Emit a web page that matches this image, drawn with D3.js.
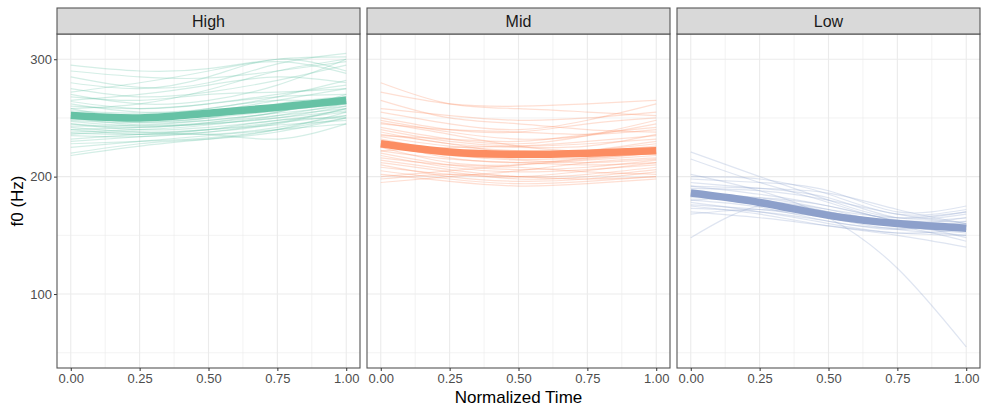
<!DOCTYPE html>
<html>
<head>
<meta charset="utf-8">
<script src="https://cdn.jsdelivr.net/npm/d3@7"></script>
<style>
  body { margin: 0; background: #fff; }
  text { font-family: "Liberation Sans", Arial, sans-serif; }
</style>
</head>
<body>
<svg></svg>
<script>
// f0 contours by tone, ggplot-style facets (High / Mid / Low)
const width = 981;
const height = 406;

const tones = ["High", "Mid", "Low"];
const toneColors = ["#66c2a5", "#fc8d62", "#8da0cb"];
const timePoints = [0, 0.25, 0.5, 0.75, 1];
const xTicks = [0, 0.25, 0.5, 0.75, 1];
const yTicks = [100, 200, 300];

// mean contour per tone (Hz at each time point)
const highMean = [252, 250, 254, 259, 265];
const midMean = [228, 221, 219, 220, 222];
const lowMean = [186, 178, 167, 160, 156];

// individual contours (Hz at each time point)
const highTokens = [
  [295, 290, 292, 300, 302], [290, 285, 284, 290, 298], [285, 276, 280, 296, 305],
  [280, 275, 285, 300, 290], [275, 268, 272, 282, 295], [270, 262, 265, 278, 300],
  [268, 265, 270, 272, 275], [264, 258, 262, 270, 278], [262, 255, 258, 268, 282],
  [260, 258, 262, 268, 270], [258, 250, 255, 265, 275], [256, 254, 256, 260, 268],
  [255, 248, 250, 262, 268], [254, 252, 258, 265, 262], [252, 246, 248, 255, 270],
  [250, 248, 252, 258, 264], [250, 244, 246, 252, 258], [248, 246, 250, 256, 262],
  [247, 243, 245, 250, 260], [245, 242, 246, 255, 266], [245, 240, 242, 248, 255],
  [243, 244, 248, 254, 260], [242, 238, 240, 246, 252], [240, 242, 245, 250, 256],
  [240, 236, 238, 245, 258], [238, 240, 244, 252, 262], [237, 236, 240, 248, 250],
  [236, 238, 236, 242, 252], [235, 234, 238, 246, 258], [232, 236, 240, 244, 248],
  [230, 234, 236, 232, 245], [228, 230, 233, 240, 250], [225, 230, 235, 240, 245],
  [220, 228, 232, 238, 250], [218, 226, 232, 240, 255], [265, 270, 278, 285, 280],
  [272, 280, 290, 298, 288], [258, 262, 274, 290, 300]
];
const midTokens = [
  [280, 262, 258, 255, 252], [272, 262, 260, 262, 265], [265, 250, 245, 240, 238],
  [258, 252, 248, 250, 255], [255, 245, 240, 248, 262], [250, 240, 238, 245, 250],
  [248, 238, 232, 235, 245], [245, 240, 238, 236, 240], [242, 232, 228, 235, 248],
  [240, 230, 226, 228, 232], [238, 228, 225, 226, 236], [236, 228, 220, 222, 228],
  [234, 226, 222, 220, 224], [232, 222, 218, 222, 230], [230, 220, 215, 216, 220],
  [228, 216, 212, 216, 225], [226, 218, 214, 212, 215], [225, 212, 210, 214, 218],
  [222, 215, 212, 210, 212], [220, 210, 206, 208, 214], [218, 208, 204, 206, 210],
  [216, 210, 208, 204, 202], [214, 206, 200, 202, 208], [212, 204, 198, 200, 206],
  [210, 200, 196, 198, 204], [208, 202, 200, 205, 212], [205, 198, 194, 196, 200],
  [202, 196, 192, 194, 198], [200, 205, 210, 215, 220], [198, 202, 200, 198, 200],
  [195, 200, 205, 212, 216], [222, 225, 226, 230, 235], [235, 232, 230, 236, 242],
  [246, 236, 226, 222, 226]
];
const lowTokens = [
  [221, 200, 180, 165, 170], [215, 195, 178, 162, 160], [200, 198, 185, 168, 172],
  [198, 195, 188, 170, 175], [195, 190, 182, 165, 168], [192, 185, 175, 163, 162],
  [190, 188, 180, 168, 160], [188, 180, 170, 162, 165], [186, 182, 172, 160, 158],
  [184, 176, 168, 158, 152], [182, 178, 165, 155, 150], [180, 174, 162, 156, 158],
  [178, 170, 160, 152, 155], [176, 172, 165, 158, 145], [175, 168, 158, 150, 140],
  [173, 170, 162, 155, 162], [170, 165, 158, 152, 150], [168, 172, 166, 158, 155],
  [148, 175, 170, 160, 165], [180, 182, 175, 162, 148], [185, 180, 172, 165, 170],
  [202, 188, 165, 122, 55], [192, 190, 186, 172, 160]
];

const means = [highMean, midMean, lowMean];
const tokens = [highTokens, midTokens, lowTokens];

const svg = d3.select("svg")
    .attr("width", width)
    .attr("height", height);

const panelLefts = [57, 367, 677];
const panelWidth = 303;
const stripTop = 8, stripHeight = 26;
const panelTop = stripTop + stripHeight, panelBottom = 368;

const y = d3.scaleLinear().domain([37, 321.5]).range([panelBottom, panelTop]);

// y axis (shared, left of first panel)
const yAxis = svg.append("g")
    .attr("transform", `translate(${panelLefts[0]},0)`)
    .call(d3.axisLeft(y).tickValues(yTicks).tickSize(3).tickPadding(2));
yAxis.select(".domain").remove();
yAxis.selectAll("line").attr("stroke", "#333333");
yAxis.selectAll("text").attr("fill", "#4d4d4d").style("font-size", "13px");

tones.forEach((tone, i) => {
  const left = panelLefts[i];
  const x = d3.scaleLinear().domain([-0.05, 1.05]).range([left, left + panelWidth]);
  const g = svg.append("g");

  // grid: minor then major
  const xMinor = [0.125, 0.375, 0.625, 0.875];
  const yMinor = [50, 150, 250];
  g.selectAll(".vminor").data(xMinor).enter().append("line")
    .attr("x1", d => x(d)).attr("x2", d => x(d))
    .attr("y1", panelTop).attr("y2", panelBottom)
    .attr("stroke", "#ebebeb").attr("stroke-width", 0.6);
  g.selectAll(".hminor").data(yMinor).enter().append("line")
    .attr("x1", left).attr("x2", left + panelWidth)
    .attr("y1", d => y(d)).attr("y2", d => y(d))
    .attr("stroke", "#ebebeb").attr("stroke-width", 0.6);
  g.selectAll(".vmajor").data(xTicks).enter().append("line")
    .attr("x1", d => x(d)).attr("x2", d => x(d))
    .attr("y1", panelTop).attr("y2", panelBottom)
    .attr("stroke", "#ebebeb").attr("stroke-width", 1.1);
  g.selectAll(".hmajor").data(yTicks).enter().append("line")
    .attr("x1", left).attr("x2", left + panelWidth)
    .attr("y1", d => y(d)).attr("y2", d => y(d))
    .attr("stroke", "#ebebeb").attr("stroke-width", 1.1);

  const line = d3.line()
    .x((d, k) => x(timePoints[k]))
    .y(d => y(d))
    .curve(d3.curveNatural);

  // individual tokens
  g.selectAll(".token").data(tokens[i]).enter().append("path")
    .attr("d", line)
    .attr("fill", "none")
    .attr("stroke", toneColors[i])
    .attr("stroke-width", 1.2)
    .attr("stroke-opacity", 0.28);

  // mean contour
  g.append("path")
    .attr("d", line(means[i]))
    .attr("fill", "none")
    .attr("stroke", toneColors[i])
    .attr("stroke-width", 7.5);

  // panel border
  g.append("rect")
    .attr("x", left).attr("y", panelTop)
    .attr("width", panelWidth).attr("height", panelBottom - panelTop)
    .attr("fill", "none").attr("stroke", "#555555").attr("stroke-width", 1.1);

  // strip
  g.append("rect")
    .attr("x", left).attr("y", stripTop)
    .attr("width", panelWidth).attr("height", stripHeight)
    .attr("fill", "#d9d9d9").attr("stroke", "#555555").attr("stroke-width", 1.1);
  g.append("text")
    .attr("x", left + panelWidth / 2)
    .attr("y", stripTop + stripHeight / 2 + 5.5)
    .attr("text-anchor", "middle")
    .attr("fill", "#1a1a1a")
    .style("font-size", "16px")
    .text(tone);

  // x axis
  const xAxis = svg.append("g")
    .attr("transform", `translate(0,${panelBottom})`)
    .call(d3.axisBottom(x).tickValues(xTicks).tickFormat(d3.format(".2f")).tickSize(3).tickPadding(3));
  xAxis.select(".domain").remove();
  xAxis.selectAll("line").attr("stroke", "#333333");
  xAxis.selectAll("text").attr("fill", "#4d4d4d").style("font-size", "13px");
});

// axis titles
svg.append("text")
  .attr("x", (panelLefts[0] + panelLefts[2] + panelWidth) / 2)
  .attr("y", 403)
  .attr("text-anchor", "middle")
  .attr("fill", "#000")
  .style("font-size", "17px")
  .text("Normalized Time");

svg.append("text")
  .attr("transform", `translate(23,${(panelTop + panelBottom) / 2}) rotate(-90)`)
  .attr("text-anchor", "middle")
  .attr("fill", "#000")
  .style("font-size", "17px")
  .text("f0 (Hz)");
</script>
</body>
</html>
